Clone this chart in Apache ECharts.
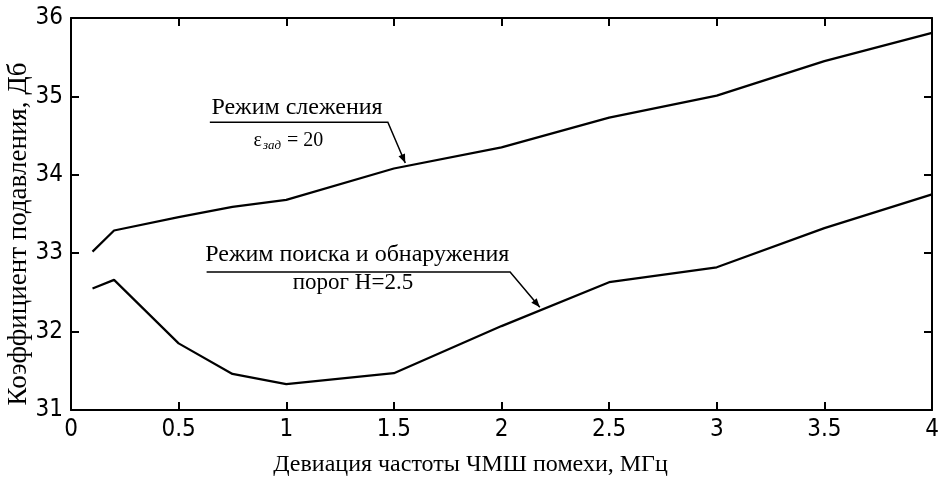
<!DOCTYPE html>
<html>
<head>
<meta charset="utf-8">
<script src="https://cdn.jsdelivr.net/npm/echarts@6/dist/echarts.min.js"></script>
<style>
  html, body { margin: 0; padding: 0; background: #fff; }
  #chart { width: 941px; height: 485px; }
</style>
</head>
<body>
<div id="chart"></div>
<script>
// Frequency deviation of the noise jammer, MHz
const deviation = [0.1, 0.2, 0.5, 0.75, 1, 1.5, 2, 2.5, 3, 3.5, 4];
// Suppression coefficient, dB — tracking mode (ε = 20)
const trackingMode = [33.02, 33.29, 33.46, 33.59, 33.68, 34.08, 34.35, 34.73, 35.01, 35.45, 35.81];
// Suppression coefficient, dB — search and detection mode (threshold H = 2.5)
const searchMode = [32.55, 32.66, 31.85, 31.46, 31.33, 31.47, 32.07, 32.63, 32.82, 33.32, 33.75];

const xTicks = { min: 0, max: 4, interval: 0.5 };
const yTicks = { min: 31, max: 36, interval: 1 };

const pairs = (xs, ys) => xs.map((x, i) => [x, ys[i]]);

const serif = '"Liberation Serif", "DejaVu Serif", serif';
const tickFont = '"DejaVu Sans Condensed", "Liberation Sans Narrow", "DejaVu Sans", sans-serif';

const chart = echarts.init(document.getElementById('chart'), null, { renderer: 'canvas' });

const frameAxis = {
  axisLine: { show: true, onZero: false, lineStyle: { color: '#000', width: 2 } },
  axisTick: { show: true, inside: true, length: 8, lineStyle: { color: '#000', width: 2 } },
  splitLine: { show: false }
};

chart.setOption({
  animation: false,
  backgroundColor: '#fff',
  grid: { left: 71, right: 9, top: 18, bottom: 75, containLabel: false, outerBoundsMode: 'none' },
  xAxis: [
    Object.assign({
      type: 'value', position: 'bottom',
      min: xTicks.min, max: xTicks.max, interval: xTicks.interval,
      name: 'Девиация частоты ЧМШ помехи, МГц',
      nameLocation: 'middle', nameGap: 43,
      nameTextStyle: { fontFamily: serif, fontSize: 24, color: '#000', padding: [0, 62, 0, 0] },
      axisLabel: { color: '#000', fontFamily: tickFont, fontSize: 24, margin: 8 }
    }, frameAxis),
    Object.assign({
      type: 'value', position: 'top',
      min: xTicks.min, max: xTicks.max, interval: xTicks.interval,
      axisLabel: { show: false }
    }, frameAxis)
  ],
  yAxis: [
    Object.assign({
      type: 'value', position: 'left',
      min: yTicks.min, max: yTicks.max, interval: yTicks.interval,
      name: 'Коэффициент подавления, Дб',
      nameLocation: 'middle', nameGap: 39, nameMoveOverlap: false,
      nameTextStyle: { fontFamily: serif, fontSize: 27, color: '#000', padding: [0, 40, 0, 0] },
      axisLabel: { color: '#000', fontFamily: tickFont, fontSize: 24, margin: 8 }
    }, frameAxis),
    Object.assign({
      type: 'value', position: 'right',
      min: yTicks.min, max: yTicks.max, interval: yTicks.interval,
      axisLabel: { show: false }
    }, frameAxis)
  ],
  series: [
    {
      name: 'Режим слежения', type: 'line', symbol: 'none',
      lineStyle: { color: '#000', width: 2.2 },
      data: pairs(deviation, trackingMode)
    },
    {
      name: 'Режим поиска и обнаружения', type: 'line', symbol: 'none',
      lineStyle: { color: '#000', width: 2.2 },
      data: pairs(deviation, searchMode)
    }
  ]
});

// Callout annotations, anchored in data coordinates
const px = (x, y) => chart.convertToPixel({ xAxisIndex: 0, yAxisIndex: 0 }, [x, y]);

function arrowHead(tip, from, len, half) {
  const dx = tip[0] - from[0], dy = tip[1] - from[1];
  const d = Math.hypot(dx, dy);
  const ux = dx / d, uy = dy / d;
  const bx = tip[0] - ux * len, by = tip[1] - uy * len;
  return [tip, [bx - uy * half, by + ux * half], [bx + uy * half, by - ux * half]];
}

function callout(lineStart, lineEnd, tip) {
  const a = px(lineStart[0], lineStart[1]);
  const b = px(lineEnd[0], lineEnd[1]);
  const t = px(tip[0], tip[1]);
  return [
    { type: 'polyline', shape: { points: [a, b, t] }, style: { stroke: '#000', lineWidth: 1.5, fill: null } },
    { type: 'polygon', shape: { points: arrowHead(t, b, 9, 3.5) }, style: { fill: '#000' } }
  ];
}

function label(at, text, size) {
  const p = px(at[0], at[1]);
  return {
    type: 'text', x: p[0], y: p[1],
    style: {
      text: text, fill: '#000', font: size + 'px ' + serif,
      align: 'center', verticalAlign: 'middle'
    }
  };
}

const epsAt = px(1.01, 34.44);

const graphics = [].concat(
  callout([0.645, 34.67], [1.472, 34.67], [1.553, 34.15]),
  [label([1.05, 34.86], 'Режим слежения', 24)],
  [{
    type: 'text', x: epsAt[0], y: epsAt[1],
    style: {
      text: '{e|ε}{s|зад}{e| = 20}',
      align: 'center', verticalAlign: 'middle',
      rich: {
        e: { fontFamily: serif, fontSize: 20, color: '#000' },
        s: { fontFamily: serif, fontSize: 13, fontStyle: 'italic', color: '#000', padding: [10, 1, 0, 1] }
      }
    }
  }],
  callout([0.63, 32.76], [2.04, 32.76], [2.178, 32.31]),
  [label([1.33, 32.98], 'Режим поиска и обнаружения', 24)],
  [label([1.31, 32.62], 'порог H=2.5', 23)]
);

chart.setOption({ graphic: graphics });
</script>
</body>
</html>
